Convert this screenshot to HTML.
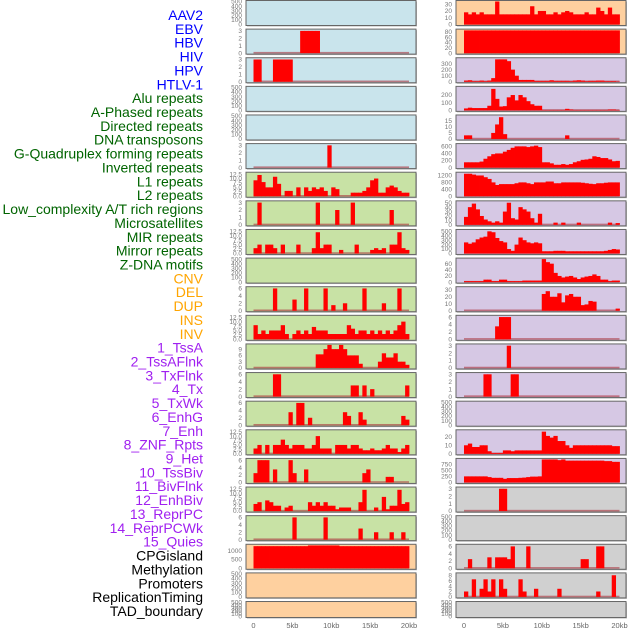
<!DOCTYPE html>
<html><head><meta charset="utf-8"><style>
html,body{margin:0;padding:0;background:#fff;}
svg{display:block;font-family:"Liberation Sans",sans-serif;}
</style></head><body>
<svg id="chart" width="630" height="630" viewBox="0 0 630 630" xmlns="http://www.w3.org/2000/svg">
<g id="labels"></g>
<g id="panels"></g>
<g id="xaxes"></g>
</svg>
<script>
const trackLabels = ["AAV2","EBV","HBV","HIV","HPV","HTLV-1","Alu repeats","A-Phased repeats","Directed repeats","DNA transposons","G-Quadruplex forming repeats","Inverted repeats","L1 repeats","L2 repeats","Low_complexity A/T rich regions","Microsatellites","MIR repeats","Mirror repeats","Z-DNA motifs","CNV","DEL","DUP","INS","INV","1_TssA","2_TssAFlnk","3_TxFlnk","4_Tx","5_TxWk","6_EnhG","7_Enh","8_ZNF_Rpts","9_Het","10_TssBiv","11_BivFlnk","12_EnhBiv","13_ReprPC","14_ReprPCWk","15_Quies","CPGisland","Methylation","Promoters","ReplicationTiming","TAD_boundary"];
const labelColors = ["#0000ff","#0000ff","#0000ff","#0000ff","#0000ff","#0000ff","#006400","#006400","#006400","#006400","#006400","#006400","#006400","#006400","#006400","#006400","#006400","#006400","#006400","#ffa500","#ffa500","#ffa500","#ffa500","#ffa500","#a020f0","#a020f0","#a020f0","#a020f0","#a020f0","#a020f0","#a020f0","#a020f0","#a020f0","#a020f0","#a020f0","#a020f0","#a020f0","#a020f0","#a020f0","#000","#000","#000","#000","#000"];
const xTickValues = [0,5,10,15,20];
const xTickLabels = ["0","5kb","10kb","15kb","20kb"];
const binKb = 0.5;
const emptyTicks = [0,100,200,300,400,500];

const v_AAV2 = [0,0,0,0,0,0,0,0,0,0,0,0,0,0,0,0,0,0,0,0,0,0,0,0,0,0,0,0,0,0,0,0,0,0,0,0,0,0,0,0];
const v_EBV = [18,15,18,15,18,15,15,15,34,15,15,15,15,15,15,15,15,27,15,20,20,15,15,18,15,18,20,18,15,15,15,18,15,15,25,20,15,25,15,15];
const v_HBV = [0,0,0,0,0,0,0,0,0,0,0,0,3,3,3,3,3,0,0,0,0,0,0,0,0,0,0,0,0,0,0,0,0,0,0,0,0,0,0,0];
const v_HIV = [85,85,85,85,85,85,85,85,85,85,85,85,85,85,85,85,85,85,85,85,85,85,85,85,85,85,85,85,85,85,85,85,85,85,85,85,85,85,85,85];
const v_HPV = [3,3,0,0,0,3,3,3,3,3,0,0,0,0,0,0,0,0,0,0,0,0,0,0,0,0,0,0,0,0,0,0,0,0,0,0,0,0,0,0];
const v_HTLV = [20,25,10,10,20,10,20,60,370,370,370,340,200,100,30,30,30,30,15,15,15,15,25,15,15,15,15,10,20,25,20,10,15,15,20,20,10,10,10,5];
const v_Alu = [0,0,0,0,0,0,0,0,0,0,0,0,0,0,0,0,0,0,0,0,0,0,0,0,0,0,0,0,0,0,0,0,0,0,0,0,0,0,0,0];
const v_APhased = [25,35,30,30,30,30,60,280,150,50,55,170,200,130,200,170,120,80,60,60,5,5,5,5,5,5,20,10,5,5,5,5,5,5,5,5,5,10,10,5];
const v_Directed = [0,0,0,0,0,0,0,0,0,0,0,0,0,0,0,0,0,0,0,0,0,0,0,0,0,0,0,0,0,0,0,0,0,0,0,0,0,0,0,0];
const v_DNA = [3,3,0,0,0,0,0,5,12,18,4,0,0,0,0,0,0,0,0,0,0,0,0,0,0,0,3,0,0,0,0,0,0,0,0,0,0,0,0,0];
const v_GQuad = [0,0,0,0,0,0,0,0,0,0,0,0,0,0,0,0,0,0,0,3,0,0,0,0,0,0,0,0,0,0,0,0,0,0,0,0,0,0,0,0];
const v_Inverted = [150,150,150,150,170,250,320,380,400,400,450,500,560,600,600,600,580,600,620,580,150,150,120,80,80,100,80,100,150,180,220,230,250,320,300,270,270,230,180,190];
const v_L1 = [9,12,8,5,5,11,7,0,3,3,0,5,0,5,3,5,4,5,3,0,5,4,0,0,0,2,2,2,3,5,9,10,2,2,5,6,5,3,2,2];
const v_L2 = [1300,1300,1250,1200,1200,1100,1000,800,650,700,700,700,700,750,800,800,750,700,800,800,800,850,850,750,750,800,800,800,800,800,780,750,720,700,750,750,780,800,800,800];
const v_LowCx = [0,3,0,0,0,0,0,0,0,0,0,0,0,0,0,0,3,0,0,0,0,2,0,0,0,3,0,0,0,0,0,0,0,0,0,2,0,0,0,0];
const v_Micro = [18,40,48,35,20,12,8,5,8,5,30,50,15,12,40,35,30,15,5,25,0,0,0,5,0,5,0,0,0,5,0,0,0,0,0,0,0,5,0,4];
const v_MIR = [3,5,0,5,5,3,0,5,0,0,0,5,0,0,0,3,12,3,5,5,0,0,2,0,0,0,5,0,0,0,2,3,2,3,0,5,5,12,3,2];
const v_Mirror = [250,220,250,320,360,380,500,480,350,280,250,100,60,200,360,300,250,230,250,230,50,50,50,60,60,60,50,50,50,50,50,50,50,50,50,50,60,80,100,90];
const v_ZDNA = [0,0,0,0,0,0,0,0,0,0,0,0,0,0,0,0,0,0,0,0,0,0,0,0,0,0,0,0,0,0,0,0,0,0,0,0,0,0,0,0];
const v_CNV = [3,3,3,3,3,8,8,3,3,8,8,3,3,3,3,5,5,5,5,5,75,65,60,30,20,15,18,20,15,10,15,18,20,25,20,8,8,3,5,5];
const v_DEL = [0,0,0,0,0,6,0,0,0,0,3,0,0,6,0,0,0,0,6,0,1.5,0,0,2,0,0,0,0,6,0,0,0,0,2,0,0,0,6,0,0];
const v_DUP = [0,0,0,0,0,0,0,0,0,0,0,0,0,0,0,0,0,0,0,0,24,28,20,20,25,12,22,24,20,20,8,9,14,13,0,0,0,0,0,3];
const v_INS = [8,3,5,3,5,5,5,8,3,0,3,5,3,5,3,7,5,5,5,3,3,3,3,3,8,6,3,5,5,3,5,3,5,3,5,3,5,8,10,3];
const v_INV = [0,0,0,0,0,0,0,0,3.5,6,6,6,0,0,0,0,0,0,0,0,0,0,0,0,0,0,0,0,0,0,0,0,0,0,0,0,0,0,0,0];
const v_TssA = [0,0,0,0,0,0,0,0,0,0,0,0,0,0,0,0,6.5,6.5,9,11,9,9,11,9,6,6,6,2,0,0,0,0,3,7,5,5,7,3,3,1.5];
const v_TssAFlnk = [0,0,0,0,0,0,0,0,0,0,0,3,0,0,0,0,0,0,0,0,0,0,0,0,0,0,0,0,0,0,0,0,0,0,0,0,0,0,0,0];
const v_TxFlnk = [0,0,0,0,0,6,6,0,0,0,0,0,0,0,0,0,0,0,0,0,0,0,0,0,0,3,3,0,3,0,2,0,0,0,0,0,0,0,0,3];
const v_Tx = [0,0,0,0,0,3,3,0,0,0,0,0,3,3,0,0,0,0,0,0,0,0,0,0,0,0,0,0,0,0,0,0,0,0,0,0,0,0,0,0];
const v_TxWk = [0,0,0,0,0,0,0,0,0,3.5,0,6,6,0,2,0,0,0,0,0,0,0,0,3.5,2.5,0,0,3.5,1.5,0,0,0,0,0,0,0,0,0,2.5,1.5];
const v_EnhG = [0,0,0,0,0,0,0,0,0,0,0,0,0,0,0,0,0,0,0,0,0,0,0,0,0,0,0,0,0,0,0,0,0,0,0,0,0,0,0,0];
const v_Enh = [3,5,0,5,0,5,5,8,5,3,5,5,5,3,3,5,10,3,3,3,0,5,5,5,3,5,5,3,2,2,3,2,2,3,5,3,3,1,3,5];
const v_ZNF = [10,12,8,8,10,10,3,1,1,1,4,4,3,4,4,4,4,4,4,4,26,21,19,21,15,15,10,7,10,10,10,10,10,10,10,10,10,10,9,9];
const v_Het = [2.5,6,6,6,0,3.5,0,0,0,6,2.5,0,0,3.5,0,0,0,0,0,0,0,0,0,0,0,0,0,0,2.5,3.5,0,0,0,0,1.5,1.5,0,0,0,0];
const v_TssBiv = [250,250,250,250,250,250,220,190,190,190,150,180,180,180,190,200,220,240,240,250,950,950,950,950,920,950,900,900,900,900,900,900,900,900,900,900,880,880,850,850];
const v_BivFlnk = [4,5,0,6,5,3,3,0,2,3,0,0,0,0,5,3,5,3,5,3,3,1,2,2,2,0,0,5,12,0,0,2,0,8,1,3,3,12,4,5];
const v_EnhBiv = [0,0,0,0,0,0,0,0,0,3,3,0,0,0,0,0,0,0,0,0,0,0,0,0,0,0,0,0,0,0,0,0,0,0,0,0,0,0,0,0];
const v_ReprPC = [0,0,0,0,0,0,0,0,0,0,6,0,0,0,0,0,0,0,6,0,0,0,0,0,0,0,0,3,0,0,0,2,0,0,0,2,0,0,2,0];
const v_ReprPCWk = [0,0,0,0,0,0,0,0,0,0,0,0,0,0,0,0,0,0,0,0,0,0,0,0,0,0,0,0,0,0,0,0,0,0,0,0,0,0,0,0];
const v_Quies = [1250,1250,1250,1250,1250,1250,1250,1250,1250,1250,1250,1250,1250,1250,1290,1290,1290,1290,1290,1290,1290,1290,1250,1250,1250,1250,1250,1250,1250,1250,1250,1250,1250,1250,1250,1250,1250,1250,1250,1250];
const v_CPG = [0,2.5,0,0,0,0,3,0,3,3,3,2.5,6,0,0,0,6,0,0,0,0,0,0,0,0,0,0,0,0,0,2.5,2.5,0,0,6,6,0,0,0,0];
const v_Methyl = [0,0,0,0,0,0,0,0,0,0,0,0,0,0,0,0,0,0,0,0,0,0,0,0,0,0,0,0,0,0,0,0,0,0,0,0,0,0,0,0];
const v_Promoters = [2,0,6.5,0,3,6.5,2,6.5,0,6.5,3,0,0,0,6.5,2,0,0,3,0,0,0,0,0,3,0,0,0,0,0,0,0,0,0,2,0,0,0,8,0];
const v_RepTiming = [0,0,0,0,0,0,0,0,0,0,0,0,0,0,0,0,0,0,0,0,0,0,0,0,0,0,0,0,0,0,0,0,0,0,0,0,0,0,0,0];
const v_TAD = [0,0,0,0,0,0,0,0,0,0,0,0,0,0,0,0,0,0,0,0,0,0,0,0,0,0,0,0,0,0,0,0,0,0,0,0,0,0,0,0];

const panelValues = [v_AAV2,v_EBV,v_HBV,v_HIV,v_HPV,v_HTLV,v_Alu,v_APhased,v_Directed,v_DNA,v_GQuad,v_Inverted,v_L1,v_L2,v_LowCx,v_Micro,v_MIR,v_Mirror,v_ZDNA,v_CNV,v_DEL,v_DUP,v_INS,v_INV,v_TssA,v_TssAFlnk,v_TxFlnk,v_Tx,v_TxWk,v_EnhG,v_Enh,v_ZNF,v_Het,v_TssBiv,v_BivFlnk,v_EnhBiv,v_ReprPC,v_ReprPCWk,v_Quies,v_CPG,v_Methyl,v_Promoters,v_RepTiming,v_TAD];
const t3=[0,1,2,3], t6=[0,2,4,6], t125=[0,2.5,5,7.5,10,12.5];
const panelTicks = [emptyTicks,[0,10,20,30],t3,[0,20,40,60,80],t3,[0,100,200,300],emptyTicks,[0,100,200],emptyTicks,[0,5,10,15],t3,[0,200,400,600],t125,[0,400,800,1200],t3,[0,10,20,30,40,50],t125,[0,100,200,300,400,500],emptyTicks,[0,20,40,60],t6,[0,10,20,30],t125,t6,[0,3,6,9],t3,t6,t3,t6,emptyTicks,t125,[0,10,20],t6,[0,250,500,750],t125,t3,t6,emptyTicks,[0,500,1000],t6,emptyTicks,[0,2,4,6,8],emptyTicks,emptyTicks];
const panelMax = [500,34,3.1,86,3.1,380,500,300,500,19,3.1,650,13,1330,3.1,52,13,520,500,75,6.2,33,13,6.2,11,3.1,6.2,3.1,6.2,500,13,27,6.2,950,13,3.1,6.2,500,1300,6.3,500,8.5,500,500];
const panelBg = ["#c9e4ec","#fed09f","#c9e4ec","#fed09f","#c9e4ec","#d6c8e4","#c9e4ec","#d6c8e4","#c9e4ec","#d6c8e4","#c9e4ec","#d6c8e4","#c8e2a5","#d6c8e4","#c8e2a5","#d6c8e4","#c8e2a5","#d6c8e4","#c8e2a5","#d6c8e4","#c8e2a5","#d6c8e4","#c8e2a5","#d6c8e4","#c8e2a5","#d6c8e4","#c8e2a5","#d6c8e4","#c8e2a5","#d6c8e4","#c8e2a5","#d6c8e4","#c8e2a5","#d6c8e4","#c8e2a5","#d0d0d0","#c8e2a5","#d0d0d0","#fed09f","#d0d0d0","#fed09f","#d0d0d0","#fed09f","#d0d0d0"];

const NS="http://www.w3.org/2000/svg";
function mk(tag, attrs, parent){const e=document.createElementNS(NS,tag);for(const k in attrs)e.setAttribute(k,attrs[k]);parent.appendChild(e);return e;}
const labelsG=document.getElementById('labels'), panelsG=document.getElementById('panels'), xG=document.getElementById('xaxes');

trackLabels.forEach((t,i)=>{
  const e=mk('text',{x:203,y:(15+i*13.86+5).toFixed(2),'text-anchor':'end','font-size':'14',fill:labelColors[i]},labelsG);
  
  
  e.textContent=t;
});

const colLeft=[246,456], colW=170, dataX0=[253.5,464], dataW=155.5;
function xScale(col,kb){return dataX0[col]+kb/20*dataW;}

panelValues.forEach((vals,p)=>{
  const row=Math.floor(p/2), col=p%2;
  const top=row*28.62+0.5, h=row===21?16:25, bottom=top+h, L=colLeft[col];
  const g=mk('g',{},panelsG);
  
  
  mk('rect',{x:L+1,y:top+1,width:colW,height:h,fill:'#bbb'},g);
  const bg=mk('rect',{x:L,y:top,width:colW,height:h,fill:panelBg[p],stroke:'#666','stroke-width':1},g);
  
  
  const ymax=panelMax[p];
  const yS=v=>bottom-1-Math.min(v,ymax)/ymax*(h-2);
  const hasData=vals.some(v=>v>0);
  if(hasData){
    const bl=mk('rect',{x:xScale(col,0),y:bottom-2.2,width:dataW,height:1.6,fill:'rgba(170,50,60,0.6)'},g);
    
    
  }
  vals.forEach((v,k)=>{
    if(v<=0)return;
    const x0=xScale(col,k*binKb), x1=xScale(col,(k+1)*binKb);
    const r=mk('rect',{x:x0.toFixed(2),y:yS(v).toFixed(2),width:(x1-x0+0.4).toFixed(2),height:(bottom-1-yS(v)).toFixed(2),fill:'#ff0000'},g);
    
    
  });
  panelTicks[p].forEach(t=>{
    const tx=mk('text',{x:L-4,y:(yS(t)+2.2).toFixed(2),'text-anchor':'end','font-size':'6.5',fill:'#777'},g);
    
    
    tx.textContent=String(t125===panelTicks[p]?t.toFixed(1):t);
  });
});

[0,1].forEach(col=>{
  xTickValues.forEach((v,i)=>{
    const e=mk('text',{x:xScale(col,v),y:628,'text-anchor':'middle','font-size':'7.5',fill:'#666'},xG);
    
    
    e.textContent=xTickLabels[i];
  });
});
</script>
</body></html>
